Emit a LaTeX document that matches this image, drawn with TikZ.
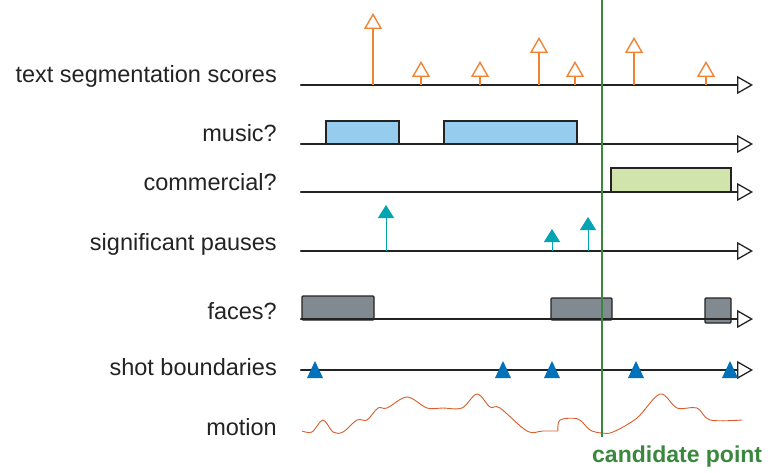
\documentclass[tikz,border=0pt]{standalone}
\usepackage{fontspec}
\setmainfont{Liberation Sans}
\usetikzlibrary{arrows.meta}

\definecolor{axisgray}{RGB}{35,35,35}
\definecolor{scoreorange}{RGB}{240,130,50}
\definecolor{musicblue}{RGB}{150,204,238}
\definecolor{adgreen}{RGB}{208,228,172}
\definecolor{pauseteal}{RGB}{0,164,180}
\definecolor{facegray}{RGB}{130,138,145}
\definecolor{shotblue}{RGB}{0,114,188}
\definecolor{motionred}{RGB}{218,92,42}
\definecolor{candgreen}{RGB}{58,135,62}

\begin{document}
\begin{tikzpicture}[x=1pt, y=-1pt,
    lbl/.style={anchor=base east, inner sep=0pt, font=\fontsize{23.5}{28}\selectfont, text=axisgray},
    axis/.style={draw=axisgray, line width=2.2pt, line cap=round,
      -{Triangle[open, length=16pt, width=18pt, line width=1.3pt]}},
    score/.style={draw=scoreorange, line width=2.3pt,
      -{Triangle[open, length=16pt, width=18pt, line width=1.4pt]}},
    pause/.style={draw=pauseteal, line width=1pt,
      -{Triangle[length=13pt, width=16pt]}, pauseteal},
    blk/.style={draw=axisgray, line width=1.1pt},
    shot/.style={fill=shotblue}]
  \useasboundingbox (0,0) rectangle (773,473);

  % row labels
  \node[lbl] (lts)  at (277,83)  {text segmentation scores};
  \node[lbl] (lmu)  at (277,142) {music?};
  \node[lbl] (lco)  at (277,190) {commercial?};
  \node[lbl] (lpa)  at (277,250) {significant pauses};
  \node[lbl] (lfa)  at (277,319) {faces?};
  \node[lbl] (lsh)  at (277,375) {shot boundaries};
  \node[lbl] (lmo)  at (277,435) {motion};

  % time axes
  \foreach \n/\y in {ts/85, mu/144, co/192, pa/251, fa/319, sh/370} {
    \coordinate (\n0) at (301,\y);
    \coordinate (\n1) at (753,\y);
  }

  % boxes sit under the axes
  \draw[blk, fill=musicblue] (326,121) rectangle (399,144);
  \draw[blk, fill=musicblue] (444,121) rectangle (577,144);
  \draw[blk, fill=adgreen]   (611,168) rectangle (731,192);
  \draw[blk, fill=facegray, rounded corners=1pt] (302,296) rectangle (374,320);
  \draw[blk, fill=facegray, rounded corners=1pt] (551,298) rectangle (612,320);
  \draw[blk, fill=facegray, rounded corners=1pt] (705,298) rectangle (731,323);

  \foreach \n in {ts, mu, co, pa, fa, sh}
    \draw[axis] (\n0) -- (\n1);

  % segmentation scores
  \foreach \x/\h in {373/13, 421/61, 480/61, 539/37, 575/61, 634/37, 706/61} {
    \coordinate (sb\x) at (\x,85);
    \coordinate (st\x) at (\x,\h);
    \draw[score] (sb\x) -- (st\x);
  }

  % pauses
  \foreach \x/\h in {386/205, 552/229, 588/217} {
    \coordinate (pb\x) at (\x,251);
    \coordinate (pt\x) at (\x,\h);
    \draw[pause] (pb\x) -- (pt\x);
  }

  % shot boundaries
  \foreach \x in {315, 503, 552, 636, 730}
    \fill[shot] (\x-8,378) -- (\x,361) -- (\x+8,378) -- cycle;

  % motion curve
  \draw[motionred, line width=0.9pt] plot[smooth, tension=0.55] coordinates {
    (302,431) (312,432) (323,420) (333,432) (343,432) (357,420) (367,420)
    (378,408) (387,408) (407,397) (427,408) (443,408) (462,408) (477,394)
    (490,407) (500,408) (527,431) (543,431) (558,431)};
  \draw[motionred, line width=0.9pt] plot[smooth, tension=0.55] coordinates {
    (558,431) (560,420) (578,419) (590,430) (602,433) (613,432) (637,418)
    (660,394) (677,408) (697,408) (710,420) (742,420)};

  % candidate point
  \coordinate (ctop) at (602,0);
  \coordinate (cbot) at (602,437);
  \draw[candgreen, line width=1.5pt] (ctop) -- (cbot);
  \node[anchor=base west, inner sep=0pt, text=candgreen,
    font=\bfseries\fontsize{23}{28}\selectfont] (cand) at (592,462) {candidate point};
\end{tikzpicture}
\end{document}
